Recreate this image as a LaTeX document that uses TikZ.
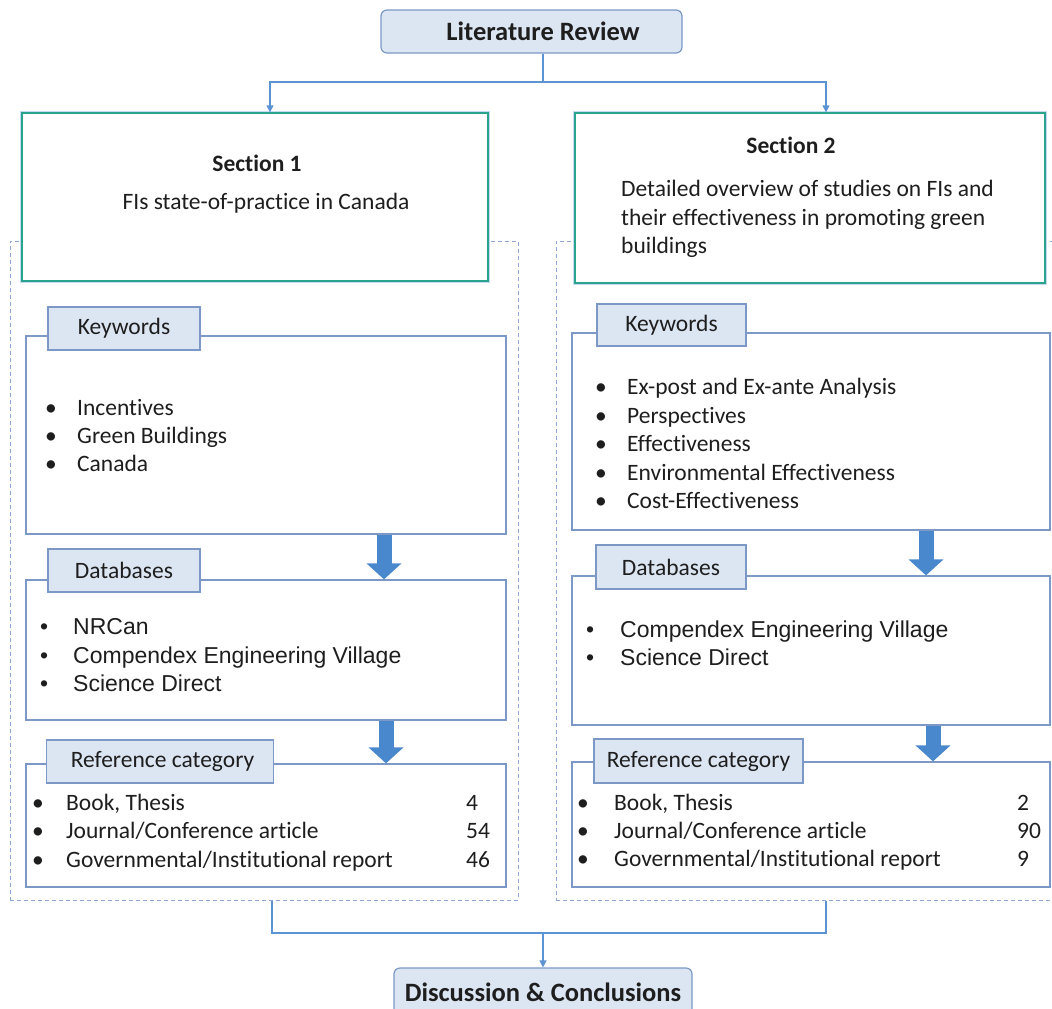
\documentclass[tikz,border=0pt]{standalone}
\usepackage{fontspec}
\setmainfont{Carlito}[Ligatures=NoCommon]
\newfontfamily\arialfont{Liberation Sans}
\usetikzlibrary{arrows.meta,positioning}

\definecolor{linkblue}{HTML}{5B93D3}
\definecolor{tabfill}{HTML}{DCE6F3}
\definecolor{tabedge}{HTML}{7B98C6}
\definecolor{sectedge}{HTML}{2AA38C}
\definecolor{glow}{HTML}{C4DAF2}
\definecolor{fatblue}{HTML}{4A88CD}
\definecolor{dashblue}{HTML}{8EA8D6}
\definecolor{txt}{HTML}{1E1E1E}

\begin{document}
\begin{tikzpicture}[
x=1pt,y=-1pt,
font=\fontsize{23.5}{27}\selectfont,
text=txt,
headbox/.style={rectangle,rounded corners=6pt,draw=tabedge,fill=tabfill,line width=1.2pt,inner sep=0pt,font=\bfseries\fontsize{26.5}{30}\selectfont},
sectbox/.style={rectangle,draw=sectedge,fill=white,line width=1.3pt,inner sep=0pt,preaction={draw=glow,line width=4.5pt}},
sectitle/.style={font=\bfseries\fontsize{23.5}{27}\selectfont},
group/.style={rectangle,draw=dashblue,line width=1pt,dash pattern=on 4pt off 3pt,inner sep=0pt},
container/.style={rectangle,draw=tabedge,fill=white,line width=1.2pt,inner sep=0pt},
tab/.style={rectangle,draw=tabedge,fill=tabfill,line width=1.2pt,inner sep=0pt,font=\fontsize{23.5}{27}\selectfont},
item/.style={anchor=base west,inner sep=0pt},
dbitem/.style={item,font=\arialfont\fontsize{23}{27}\selectfont},
link/.style={draw=linkblue,line width=1.3pt},
linkarrow/.style={link,-{Triangle[width=7pt,length=7pt]}},
fatarrow/.style={draw=fatblue,line width=15pt,-{Triangle[width=34pt,length=16pt]}}
]
\useasboundingbox (0,0) rectangle (1052,1009);

% Dashed groups behind the sections
\node [group, minimum width=508, minimum height=659] (g1) at (264,570.5) {};
\node [group, minimum width=504, minimum height=659] (g2) at (808,570.5) {};

% Top and bottom boxes
\node [headbox, minimum width=301, minimum height=43] (lit) at (531.5,31.5) {\hspace*{23pt}Literature Review};
\node [headbox, minimum width=298, minimum height=48] (disc) at (543,992) {Discussion \& Conclusions};

% Section boxes
\node [sectbox, minimum width=466, minimum height=168] (s1) at (255,197) {};
\node [sectbox, minimum width=470, minimum height=170] (s2) at (810,198) {};
\node [sectitle] (s1head) at (257,163) {Section 1};
\node (s1body) at (266,203) {FIs state-of-practice in Canada};
\node [sectitle] (s2head) at (791,145) {Section 2};
\foreach \line [count=\i] in {Detailed overview of studies on FIs and,their effectiveness in promoting green,buildings}{
  \node [item] (s2line\i) at (621,{168+28.5*\i}) {\line};
}

% Containers, left column
\node [container, minimum width=480, minimum height=198] (kw1) at (266,435) {};
\node [container, minimum width=480, minimum height=140] (db1) at (266,650) {};
\node [container, minimum width=480, minimum height=123] (ref1) at (266,825.5) {};
\node [tab, minimum width=152, minimum height=43] (kwtab1) at (124,328.5) {Keywords};
\node [tab, minimum width=152, minimum height=43] (dbtab1) at (124,570.5) {Databases};
\node [tab, minimum width=227, minimum height=43] (reftab1) at (160,761.5) {\hspace*{5pt}Reference category};

% Containers, right column
\node [container, minimum width=478, minimum height=197] (kw2) at (811,431.5) {};
\node [container, minimum width=478, minimum height=149] (db2) at (811,650.5) {};
\node [container, minimum width=478, minimum height=125] (ref2) at (811,824.5) {};
\node [tab, minimum width=149, minimum height=42] (kwtab2) at (671.5,325) {Keywords};
\node [tab, minimum width=150, minimum height=44] (dbtab2) at (671,567) {Databases};
\node [tab, minimum width=209, minimum height=44] (reftab2) at (698.5,761) {Reference category};

% Keyword lists
\foreach \entry [count=\i] in {Incentives,Green Buildings,Canada}{
  \node [item] (kw1b\i) at (45,{387+28*\i}) {\textbullet};
  \node [item] (kw1i\i) at (77,{387+28*\i}) {\entry};
}
\foreach \entry [count=\i] in {Ex-post and Ex-ante Analysis,Perspectives,Effectiveness,Environmental Effectiveness,Cost-Effectiveness}{
  \node [item] (kw2b\i) at (595,{366+28.5*\i}) {\textbullet};
  \node [item] (kw2i\i) at (627,{366+28.5*\i}) {\entry};
}

% Database lists
\foreach \entry [count=\i] in {NRCan,Compendex Engineering Village,Science Direct}{
  \node [dbitem] (db1b\i) at (40,{606+28.5*\i}) {\textbullet};
  \node [dbitem] (db1i\i) at (73,{606+28.5*\i}) {\entry};
}
\foreach \entry [count=\i] in {Compendex Engineering Village,Science Direct}{
  \node [dbitem] (db2b\i) at (586,{609+28*\i}) {\textbullet};
  \node [dbitem] (db2i\i) at (620,{609+28*\i}) {\entry};
}

% Reference category lists
\foreach \entry/\num [count=\i] in {{Book, Thesis}/4,{Journal/Conference article}/54,{Governmental/Institutional report}/46}{
  \node [item] (ref1b\i) at (32,{781.5+28.5*\i}) {\textbullet};
  \node [item] (ref1i\i) at (66,{781.5+28.5*\i}) {\entry};
  \node [item] (ref1n\i) at (466,{781.5+28.5*\i}) {\num};
}
\foreach \entry/\num [count=\i] in {{Book, Thesis}/2,{Journal/Conference article}/90,{Governmental/Institutional report}/9}{
  \node [item] (ref2b\i) at (577,{782+28*\i}) {\textbullet};
  \node [item] (ref2i\i) at (614,{782+28*\i}) {\entry};
  \node [item] (ref2n\i) at (1017,{782+28*\i}) {\num};
}

% Fat arrows between the steps
\draw [fatarrow] ([xshift=118]kw1.south) -- ([xshift=118]db1.north);
\draw [fatarrow] ([xshift=120]db1.south) -- ([xshift=120]ref1.north);
\draw [fatarrow] ([xshift=115]kw2.south) -- ([xshift=115]db2.north);
\draw [fatarrow] ([xshift=122]db2.south) -- ([xshift=122]ref2.north);

% Split and merge connectors
\coordinate (split) at (543,82);
\coordinate (merge) at (543,933);
\draw [link] ([xshift=11.5]lit.south) -- (split);
\draw [linkarrow] (split) -| ([xshift=15]s1.north);
\draw [linkarrow] (split) -| ([xshift=16]s2.north);
\draw [link] ([xshift=8]g1.south) |- (merge) -| ([xshift=18]g2.south);
\draw [linkarrow] (merge) -- (disc.north);
\end{tikzpicture}
\end{document}
